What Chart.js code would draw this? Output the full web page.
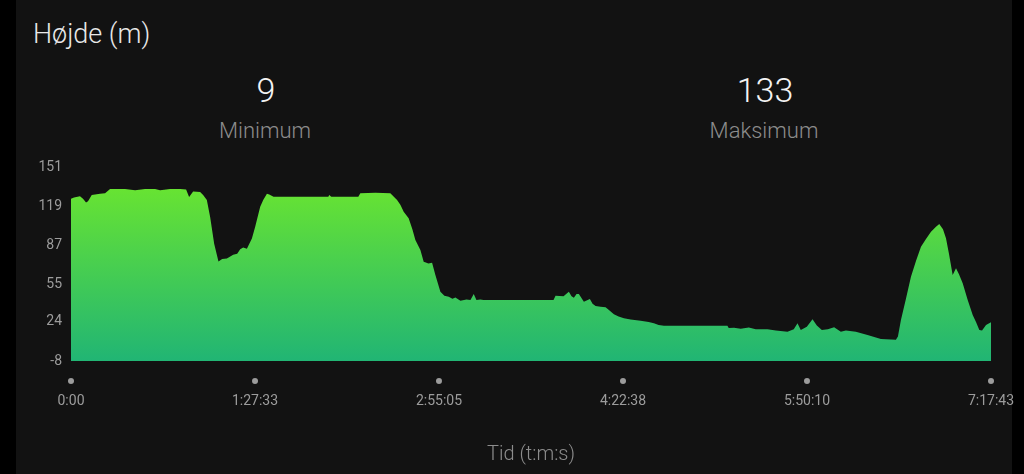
<!DOCTYPE html>
<html>
<head>
<meta charset="utf-8">
<script src="https://cdn.jsdelivr.net/npm/chart.js@4/dist/chart.umd.min.js"></script>
<style>
  html, body { margin: 0; padding: 0; background: #000; width: 1024px; height: 474px; overflow: hidden; }
  #panel { position: absolute; left: 16px; top: 0; width: 996px; height: 474px; background: #121212; }
  .t { position: absolute; font-family: Roboto, "Noto Sans", sans-serif; font-weight: 300; line-height: 1; white-space: nowrap; }
  #title { left: 33px; top: 21px; font-size: 27px; color: #e8e8e8; }
  .num { font-size: 34px; color: #f4f4f4; width: 200px; text-align: center; top: 73px; }
  .lab { font-size: 22px; color: #8c8c8c; width: 200px; text-align: center; top: 120px; }
  canvas { position: absolute; left: 0; top: 0; }
</style>
</head>
<body>
<div id="panel"></div>
<div class="t" id="title">Højde (m)</div>
<div class="t num" style="left:166px">9</div>
<div class="t lab" style="left:165px">Minimum</div>
<div class="t num" style="left:665px">133</div>
<div class="t lab" style="left:664px">Maksimum</div>
<canvas id="c" width="1024" height="474"></canvas>
<script>
// elapsed time in seconds
const times = [0,86,257,343,429,486,592,829,972,1115,1343,1543,1829,2115,2401,2543,2829,3115,3286,3372,3486,3687,3772,3878,3972,4087,4210,4315,4450,4630,4744,4830,4915,5021,5164,5258,5401,5487,5593,5659,5782,6544,7345,7373,7430,8202,8259,8688,9116,9202,9308,9402,9497,9639,9745,9831,9974,10068,10203,10308,10402,10545,10659,10783,10888,10974,11117,11288,11403,11497,11574,11688,11774,13774,13832,14060,14212,14289,14355,14432,14498,14641,14718,14812,14889,14975,15118,15261,15347,15498,15632,15784,15975,16261,16490,16641,16775,16927,18739,18776,18927,19119,19348,19547,19882,20119,20453,20633,20739,20833,21005,21168,21291,21434,21605,21785,21977,22120,22405,22739,23120,23549,23606,23692,23835,23978,24121,24264,24407,24550,24693,24786,24892,24978,25063,25169,25264,25349,25455,25598,25741,25835,25930,26007,26121,26263];
// elevation in metres
const heights = [125,126,127,125,122,123,128,129,129.5,133,133,133,132,133,133,132,133,133,132.5,126.5,131,130.5,128,124,110,88,73.5,75.5,76,79,80,83.5,85,84,92.5,102,118.5,124,129,128.5,126.7,126.7,126.7,128,126.7,126.7,129.5,129.8,129.5,127,124,120,114.4,109,100,91.2,83,73.4,72,72.5,62.5,48.8,45.5,44.7,43,44,41.4,42.5,42,46.9,42,42.5,42,42,45.5,45,48.8,45,43.9,47,46.9,40.6,41.5,42.8,39,37.1,36.5,36,34,30.3,28.5,27,26,25,24,22.9,21.5,20.9,20.9,19,19.3,18.5,19.5,18,18,17,16,18,22.9,17.4,20,26.2,21,17.4,18,19.6,16,17,16,13.3,10,9.5,12,25.6,43,61,74,85.7,92,98,102,104.3,100,92.6,80,62.5,68,63,55.7,42,29.7,24,17.4,17,21.5,23.7];
const xTickValues = [0, 5253, 10505, 15758, 21010, 26263];
const xTickLabels = ['0:00', '1:27:33', '2:55:05', '4:22:38', '5:50:10', '7:17:43'];
const yTickValues = [-8, 24, 55, 87, 119, 151];

const points = times.map((t, i) => ({ x: t, y: heights[i] }));

const dotPlugin = {
  id: 'tickDots',
  afterDraw(chart) {
    const ctx = chart.ctx, xs = chart.scales.x, y = chart.chartArea.bottom + 20;
    ctx.save();
    ctx.fillStyle = '#9c9c9c';
    xTickValues.forEach(v => {
      ctx.beginPath();
      ctx.arc(xs.getPixelForValue(v), y, 3, 0, Math.PI * 2);
      ctx.fill();
    });
    ctx.restore();
  }
};

new Chart(document.getElementById('c'), {
  type: 'line',
  data: {
    datasets: [{
      data: points,
      fill: 'start',
      borderWidth: 0,
      pointRadius: 0,
      tension: 0,
      backgroundColor: (ctx) => {
        const ca = ctx.chart.chartArea;
        if (!ca) return '#4ccf4f';
        const g = ctx.chart.ctx.createLinearGradient(0, ca.top, 0, ca.bottom);
        g.addColorStop(0, '#70e92a');
        g.addColorStop(1, '#21b574');
        return g;
      }
    }]
  },
  plugins: [dotPlugin],
  options: {
    responsive: false,
    animation: false,
    events: [],
    layout: { padding: { left: 16, right: 33, top: 167, bottom: 0 } },
    plugins: { legend: { display: false }, tooltip: { enabled: false } },
    scales: {
      x: {
        type: 'linear',
        min: 0,
        max: 26263,
        afterBuildTicks: (s) => { s.ticks = xTickValues.map(v => ({ value: v })); },
        afterFit: (s) => { s.height = 113; s.paddingLeft = 0; s.paddingRight = 0; },
        grid: { display: false, drawTicks: false },
        border: { display: false },
        ticks: {
          padding: 32,
          color: '#9c9c9c',
          font: { family: 'Roboto', size: 14 },
          maxRotation: 0,
          autoSkip: false,
          callback: (v, i) => xTickLabels[i]
        },
        title: {
          display: true,
          text: 'Tid (t:m:s)',
          color: '#8c8c8c',
          font: { family: 'Roboto', size: 20, weight: 300 },
          padding: { top: 0, bottom: 7 }
        }
      },
      y: {
        type: 'linear',
        min: -8,
        max: 151,
        afterBuildTicks: (s) => { s.ticks = yTickValues.map(v => ({ value: v })); },
        afterFit: (s) => { s.width = 55; },
        grid: { display: false, drawTicks: false },
        border: { display: false },
        ticks: {
          padding: 9,
          color: '#9c9c9c',
          font: { family: 'Roboto', size: 14 }
        }
      }
    }
  }
});
</script>
</body>
</html>
